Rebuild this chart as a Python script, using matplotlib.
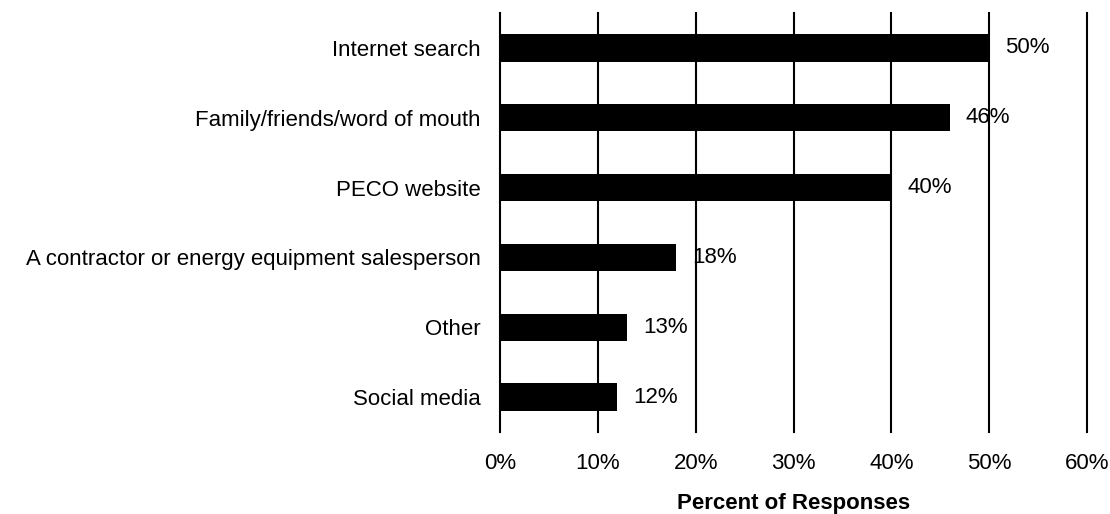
import matplotlib.pyplot as plt

plt.rcParams['font.family'] = ['Liberation Sans', 'DejaVu Sans']

fuentes = ['Internet search', 'Family/friends/word of mouth', 'PECO website',
           'A contractor or energy equipment salesperson', 'Other', 'Social media']
porcentajes = [50, 46, 40, 18, 13, 12]
marcas_x = [0, 10, 20, 30, 40, 50, 60]
etiquetas_x = ['0%', '10%', '20%', '30%', '40%', '50%', '60%']

fig = plt.figure(figsize=(11.1, 5.14), dpi=100)
ax = fig.add_axes([0.4505, 0.1595, 0.5288, 0.8152])

posiciones = list(range(len(fuentes)))
ax.barh(posiciones, porcentajes, height=0.39, color='black', zorder=3)

# etiquetas de valor a la derecha de cada barra
for y, v in zip(posiciones, porcentajes):
    ax.text(v + 1.6, y, f'{v}%', va='center', ha='left', fontsize=16, zorder=4)

ax.set_xlim(0, 60)
ax.set_ylim(len(fuentes) - 0.5, -0.5)
ax.set_xticks(marcas_x)
ax.set_xticklabels(etiquetas_x)
ax.set_yticks(posiciones)
ax.set_yticklabels(fuentes)
ax.tick_params(axis='x', length=0, pad=15, labelsize=16)
ax.tick_params(axis='y', length=0, pad=14, labelsize=16)

for x in marcas_x:
    ax.axvline(x, color='black', linewidth=1.5, zorder=1, clip_on=False)

for lado in ['top', 'right', 'bottom', 'left']:
    ax.spines[lado].set_visible(False)

ax.set_xlabel('Percent of Responses', fontsize=16, fontweight='bold', labelpad=14)

plt.savefig('out.png', dpi=100)
